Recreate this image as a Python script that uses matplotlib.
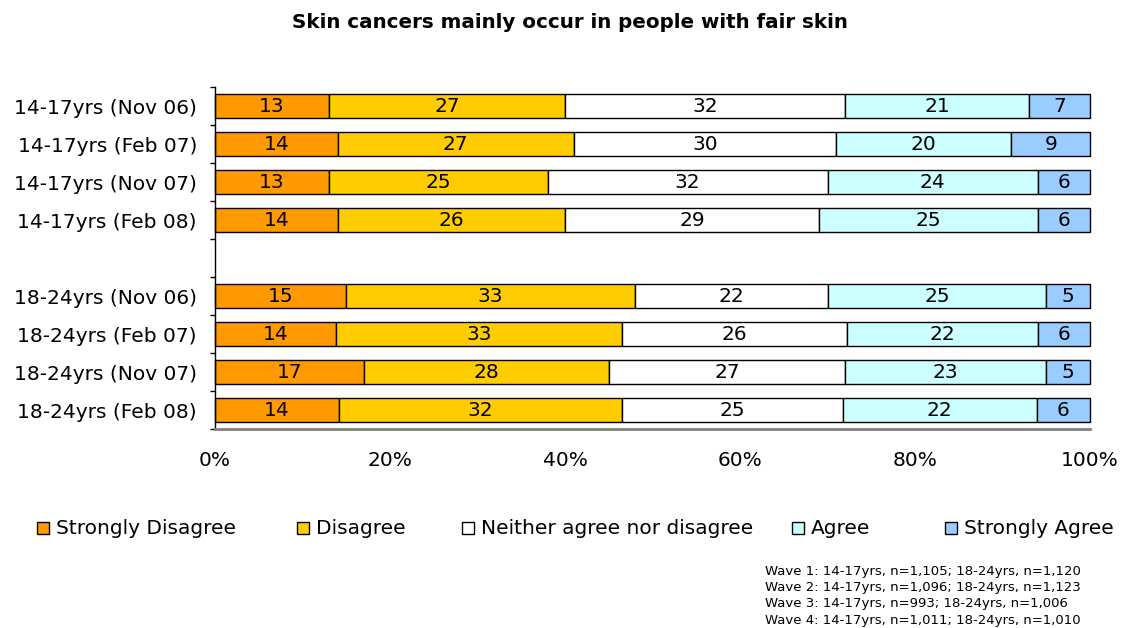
import matplotlib
matplotlib.use("Agg")
import matplotlib.pyplot as plt
from matplotlib.patches import Rectangle
import numpy as np

categories = ["14-17yrs (Nov 06)", "14-17yrs (Feb 07)", "14-17yrs (Nov 07)", "14-17yrs (Feb 08)", "",
              "18-24yrs (Nov 06)", "18-24yrs (Feb 07)", "18-24yrs (Nov 07)", "18-24yrs (Feb 08)"]
series_names = ["Strongly Disagree", "Disagree", "Neither agree nor disagree", "Agree", "Strongly Agree"]
strongly_disagree = [13, 14, 13, 14, None, 15, 14, 17, 14]
disagree = [27, 27, 25, 26, None, 33, 33, 28, 32]
neither = [32, 30, 32, 29, None, 22, 26, 27, 25]
agree = [21, 20, 24, 25, None, 25, 22, 23, 22]
strongly_agree = [7, 9, 6, 6, None, 5, 6, 5, 6]
colors = ["#FF9900", "#FFCC00", "#FFFFFF", "#CCFFFF", "#99CCFF"]
xticks = [0, 20, 40, 60, 80, 100]
title = "Skin cancers mainly occur in people with fair skin"
footnote = ["Wave 1: 14-17yrs, n=1,105; 18-24yrs, n=1,120",
            "Wave 2: 14-17yrs, n=1,096; 18-24yrs, n=1,123",
            "Wave 3: 14-17yrs, n=993; 18-24yrs, n=1,006",
            "Wave 4: 14-17yrs, n=1,011; 18-24yrs, n=1,010"]

plt.rcParams['font.family'] = ['DejaVu Sans']
fig = plt.figure(figsize=(11.26, 6.28), dpi=100)
ax = fig.add_axes([215/1126, 1-429/628, 875/1126, 342/628])

series = [strongly_disagree, disagree, neither, agree, strongly_agree]
n = len(categories)
y = np.arange(n)
for i in range(n):
    vals = [s[i] for s in series]
    if vals[0] is None:
        continue
    tot = sum(vals)
    left = 0.0
    for j, v in enumerate(vals):
        w = v / tot * 100
        ax.barh(y[i], w, left=left, height=0.63, color=colors[j], edgecolor="black",
                linewidth=1.0, clip_on=False)
        ax.text(left + w/2, y[i], str(v), ha="center", va="center", fontsize=14.5, color="black")
        left += w

ax.set_ylim(n - 0.5, -0.5)
ax.set_xlim(0, 100)
ax.set_yticks(y)
ax.set_yticklabels(categories, fontsize=14.5)
ax.set_yticks(np.arange(n + 1) - 0.5, minor=True)
ax.tick_params(axis="y", which="major", length=0, pad=13)
ax.tick_params(axis="y", which="minor", length=3.6, width=1, direction="out")
ax.set_xticks(xticks)
ax.set_xticklabels([f"{t}%" for t in xticks], fontsize=14.5)
ax.tick_params(axis="x", length=0, pad=16)
for s in ["top", "right"]:
    ax.spines[s].set_visible(False)
ax.spines["bottom"].set_color("#808080")
ax.spines["bottom"].set_linewidth(2)
ax.spines["left"].set_color("black")
ax.spines["left"].set_linewidth(1)

fig.text(570/1126, 1-23/628, title, ha="center", va="center", fontsize=14.3, fontweight="bold")

# legend
leg_x = [37, 297, 462, 792, 945]
ly = 528
for j, name in enumerate(series_names):
    sq = 12
    fig.patches.append(Rectangle((leg_x[j]/1126, 1-(ly+sq/2)/628), sq/1126, sq/628,
                                 transform=fig.transFigure, facecolor=colors[j], edgecolor="black", linewidth=1))
    fig.text((leg_x[j]+sq+7)/1126, 1-ly/628, name, ha="left", va="center", fontsize=14.5)

for k, line in enumerate(footnote):
    fig.text(765/1126, 1-(571 + k*16.5)/628, line, ha="left", va="center", fontsize=9.5)

fig.savefig("out.png", dpi=100)
